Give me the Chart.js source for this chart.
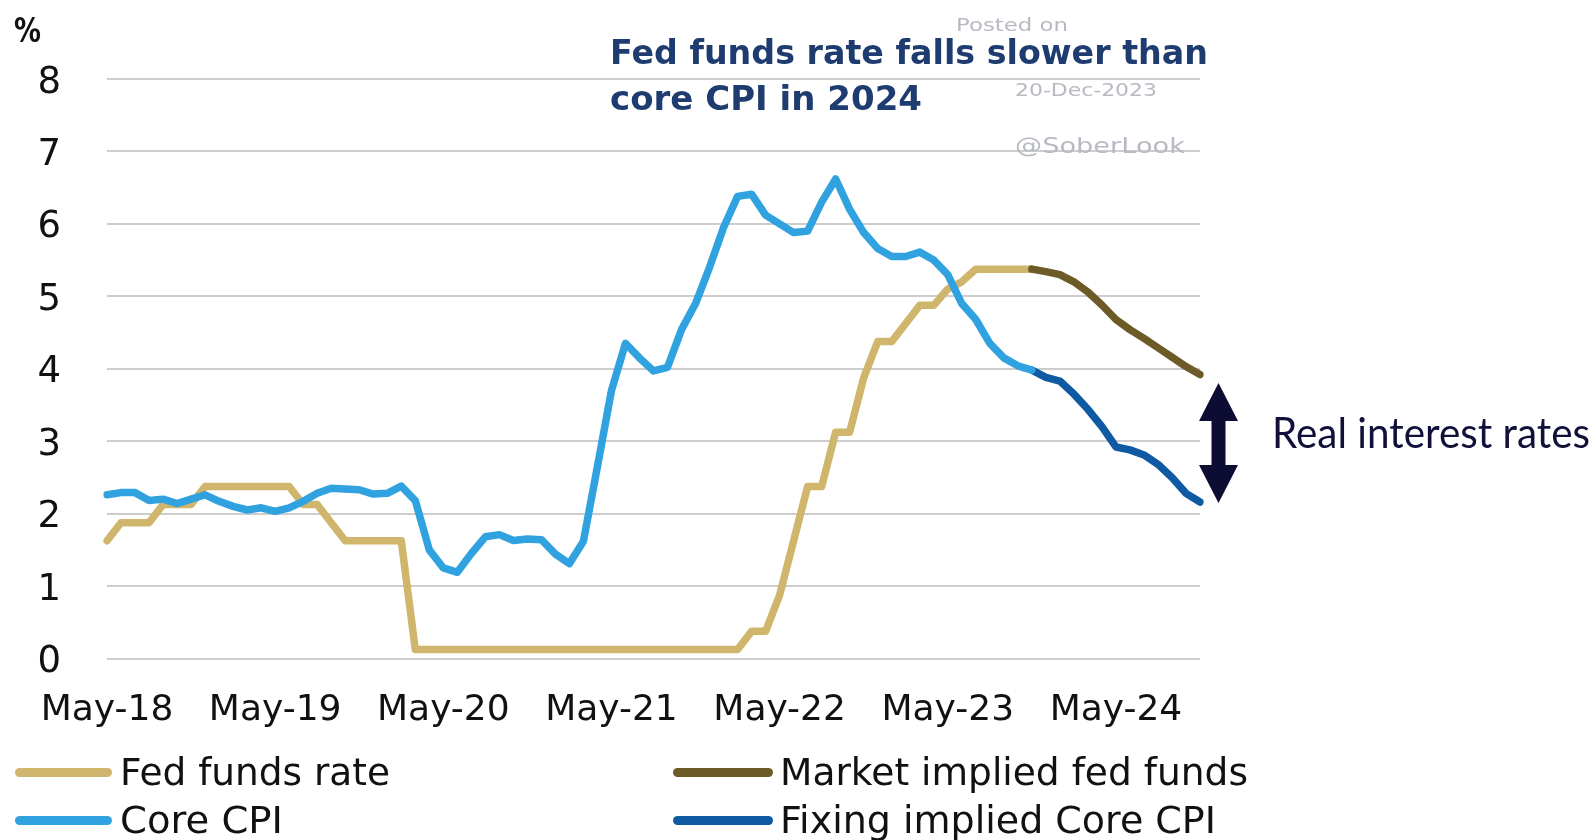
<!DOCTYPE html>
<html>
<head>
<meta charset="utf-8">
<title>Fed funds rate vs core CPI</title>
<script src="https://cdn.jsdelivr.net/npm/chart.js@4.4.1/dist/chart.umd.min.js"></script>
<style>
  html, body { margin: 0; padding: 0; background: #fff; }
  #wrap { position: relative; width: 1595px; height: 840px; overflow: hidden; font-family: 'DejaVu Sans', sans-serif; color: #111; }
  #wrap canvas { position: absolute; left: 0; top: 0; }
  .txt { position: absolute; white-space: nowrap; line-height: 1; transform-origin: 0 50%; }
  .title { font-weight: bold; font-size: 33px; color: #1e3c70; }
  .mark { color: #b7bac3; }
  .pct { font-weight: bold; }
  .leg-swatch { position: absolute; height: 9px; border-radius: 4.5px; }
  .leg-label { font-size: 37px; color: #111; }
</style>
</head>
<body>
<div id="wrap">
  <canvas id="chart" width="1595" height="840"></canvas>
  <div id="overlay"></div>
</div>
<script>
/* Fed funds rate vs core CPI, with 2024 market-implied paths */

const MONTHS = [
  'May-18', 'Jun-18', 'Jul-18', 'Aug-18', 'Sep-18', 'Oct-18', 'Nov-18', 'Dec-18',
  'Jan-19', 'Feb-19', 'Mar-19', 'Apr-19', 'May-19', 'Jun-19', 'Jul-19', 'Aug-19', 'Sep-19', 'Oct-19', 'Nov-19', 'Dec-19',
  'Jan-20', 'Feb-20', 'Mar-20', 'Apr-20', 'May-20', 'Jun-20', 'Jul-20', 'Aug-20', 'Sep-20', 'Oct-20', 'Nov-20', 'Dec-20',
  'Jan-21', 'Feb-21', 'Mar-21', 'Apr-21', 'May-21', 'Jun-21', 'Jul-21', 'Aug-21', 'Sep-21', 'Oct-21', 'Nov-21', 'Dec-21',
  'Jan-22', 'Feb-22', 'Mar-22', 'Apr-22', 'May-22', 'Jun-22', 'Jul-22', 'Aug-22', 'Sep-22', 'Oct-22', 'Nov-22', 'Dec-22',
  'Jan-23', 'Feb-23', 'Mar-23', 'Apr-23', 'May-23', 'Jun-23', 'Jul-23', 'Aug-23', 'Sep-23', 'Oct-23', 'Nov-23', 'Dec-23',
  'Jan-24', 'Feb-24', 'Mar-24', 'Apr-24', 'May-24', 'Jun-24', 'Jul-24', 'Aug-24', 'Sep-24', 'Oct-24', 'Nov-24',
];

// only these months get an axis label
const TICK_LABELS = ['May-18', 'May-19', 'May-20', 'May-21', 'May-22', 'May-23', 'May-24'];

// actuals, May-18 .. Nov-23
const FED_FUNDS = [
  1.625, 1.875, 1.875, 1.875, 2.125, 2.125, 2.125, 2.375,
  2.375, 2.375, 2.375, 2.375, 2.375, 2.375, 2.125, 2.125, 1.875, 1.625, 1.625, 1.625,
  1.625, 1.625, 0.125, 0.125, 0.125, 0.125, 0.125, 0.125, 0.125, 0.125, 0.125, 0.125,
  0.125, 0.125, 0.125, 0.125, 0.125, 0.125, 0.125, 0.125, 0.125, 0.125, 0.125, 0.125,
  0.125, 0.125, 0.375, 0.375, 0.875, 1.625, 2.375, 2.375, 3.125, 3.125, 3.875, 4.375,
  4.375, 4.625, 4.875, 4.875, 5.1, 5.2, 5.375, 5.375, 5.375, 5.375, 5.375,
];
const CORE_CPI = [
  2.26, 2.29, 2.29, 2.18, 2.2, 2.14, 2.2, 2.26,
  2.17, 2.1, 2.05, 2.08, 2.03, 2.08, 2.17, 2.28, 2.35, 2.34, 2.33, 2.27,
  2.28, 2.38, 2.18, 1.5, 1.25, 1.19, 1.45, 1.68, 1.71, 1.63, 1.65, 1.64,
  1.44, 1.31, 1.62, 2.65, 3.7, 4.35, 4.15, 3.97, 4.02, 4.54, 4.9, 5.4,
  5.95, 6.38, 6.41, 6.12, 6.0, 5.88, 5.9, 6.3, 6.62, 6.2, 5.88, 5.66,
  5.55, 5.55, 5.61, 5.5, 5.3, 4.9, 4.68, 4.35, 4.15, 4.04, 3.98,
];

// implied paths, Nov-23 .. Nov-24
const IMPLIED_MONTHS = ['Nov-23', 'Dec-23', 'Jan-24', 'Feb-24', 'Mar-24', 'Apr-24', 'May-24', 'Jun-24', 'Jul-24', 'Aug-24', 'Sep-24', 'Oct-24', 'Nov-24'];
const MARKET_IMPLIED_FF = [5.375, 5.34, 5.3, 5.2, 5.06, 4.88, 4.68, 4.54, 4.42, 4.29, 4.16, 4.03, 3.92];
const FIXING_IMPLIED_CPI = [3.98, 3.88, 3.83, 3.65, 3.44, 3.2, 2.92, 2.88, 2.81, 2.68, 2.5, 2.28, 2.16];

const Y_MIN = 0, Y_MAX = 8, Y_STEP = 1;

const COLORS = { fed: '#cfb66c', cpi: '#2fa2df', market: '#6c5b27', fixing: '#0f5aa2' };

const paired = (months, values) => months.map((m, i) => ({ x: m, y: values[i] }));

function line(label, data, color, order) {
  return {
    label, data, order,
    borderColor: color, backgroundColor: color,
    borderWidth: 7.5, pointRadius: 0, tension: 0,
    borderJoinStyle: 'round', borderCapStyle: 'round', spanGaps: false,
  };
}

const datasets = [
  line('Fed funds rate', FED_FUNDS, COLORS.fed, 3),
  line('Market implied fed funds', paired(IMPLIED_MONTHS, MARKET_IMPLIED_FF), COLORS.market, 2),
  line('Core CPI', CORE_CPI, COLORS.cpi, 0),
  line('Fixing implied Core CPI', paired(IMPLIED_MONTHS, FIXING_IMPLIED_CPI), COLORS.fixing, 1),
];

// double-headed arrow marking the real-rate gap
const gapArrow = {
  id: 'gapArrow',
  afterDraw(chart) {
    const ctx = chart.ctx;
    const cx = 1218.5, top = 383, bot = 503, head = 38, hw = 19.5, sw = 7;
    ctx.save();
    ctx.fillStyle = '#0d0c33';
    ctx.beginPath();
    ctx.moveTo(cx, top);
    ctx.lineTo(cx + hw, top + head);
    ctx.lineTo(cx + sw, top + head);
    ctx.lineTo(cx + sw, bot - head);
    ctx.lineTo(cx + hw, bot - head);
    ctx.lineTo(cx, bot);
    ctx.lineTo(cx - hw, bot - head);
    ctx.lineTo(cx - sw, bot - head);
    ctx.lineTo(cx - sw, top + head);
    ctx.lineTo(cx - hw, top + head);
    ctx.closePath();
    ctx.fill();
    ctx.restore();
  },
};

const chart = new Chart(document.getElementById('chart'), {
  type: 'line',
  data: { labels: MONTHS, datasets },
  options: {
    responsive: false,
    animation: false,
    layout: { padding: { top: 79, right: 395, bottom: 0, left: 0 } },
    plugins: { legend: { display: false }, tooltip: { enabled: false } },
    scales: {
      x: {
        type: 'category',
        offset: false,
        grid: { display: false, drawTicks: false },
        border: { display: false },
        ticks: {
          autoSkip: false, maxRotation: 0, minRotation: 0, padding: 31,
          color: '#111', font: { family: 'DejaVu Sans', size: 36 },
          callback(v) { const l = this.getLabelForValue(v); return TICK_LABELS.includes(l) ? l : ''; },
        },
        afterFit(scale) { scale.height = 181.5; },
      },
      y: {
        min: Y_MIN, max: Y_MAX,
        grid: { color: '#cdcdcd', lineWidth: 2, drawTicks: false },
        border: { display: false },
        ticks: {
          stepSize: Y_STEP, padding: 46, labelOffset: 4,
          color: '#111', font: { family: 'DejaVu Sans', size: 37 },
        },
        afterFit(scale) { scale.width = 107; },
      },
    },
  },
  plugins: [gapArrow],
});

/* ---------------- text overlays ---------------- */
const overlay = document.getElementById('overlay');

// cy is the cap-height centre; a width squeezes/stretches the run to fit
function text(str, cls, left, cy, size, width, capMid) {
  const el = document.createElement('div');
  el.className = 'txt ' + cls;
  el.textContent = str;
  el.style.fontSize = size + 'px';
  el.style.left = left + 'px';
  el.style.top = (cy - (capMid || 0.48) * size) + 'px';
  overlay.appendChild(el);
  if (width) el.style.transform = `scaleX(${width / el.getBoundingClientRect().width})`;
  return el;
}

text('%', 'pct', 14, 30, 33, 27);
text('Posted on', 'mark', 956, 25, 18, 112);
text('20-Dec-2023', 'mark', 1015, 90, 18, 142);
text('@SoberLook', 'mark', 1015, 146, 22, 170);
text('Fed funds rate falls slower than', 'title', 610, 52, 33, 598);
text('core CPI in 2024', 'title', 610, 98, 33, 312);

const realEl = text('Real interest rates', '', 1272, 433, 42, 0, 0.53);
realEl.style.fontFamily = 'Lato, sans-serif';
realEl.style.color = '#10103a';
realEl.style.transform = `scaleX(${318 / realEl.getBoundingClientRect().width})`;

// legend, built from the chart's own datasets
const LEGEND_SLOTS = [
  { swatch: 15, w: 97, label: 120, cy: 772, fit: 270 },
  { swatch: 673, w: 100, label: 780, cy: 772, fit: 468 },
  { swatch: 15, w: 97, label: 120, cy: 820, fit: 163 },
  { swatch: 673, w: 100, label: 780, cy: 820, fit: 436 },
];
chart.data.datasets.forEach((ds, i) => {
  const slot = LEGEND_SLOTS[i];
  const sw = document.createElement('div');
  sw.className = 'leg-swatch';
  sw.style.left = slot.swatch + 'px';
  sw.style.width = slot.w + 'px';
  sw.style.top = (slot.cy - 4.5) + 'px';
  sw.style.background = ds.borderColor;
  overlay.appendChild(sw);
  text(ds.label, 'leg-label', slot.label, slot.cy, 37, slot.fit);
});
</script>
</body>
</html>
